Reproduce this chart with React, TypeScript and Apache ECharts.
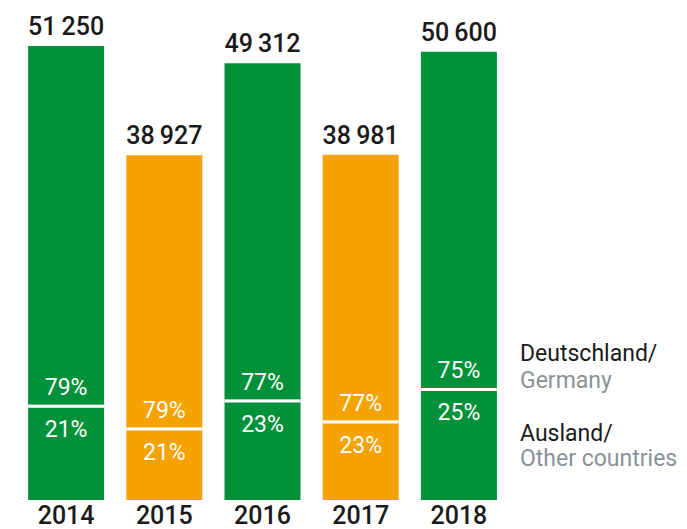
import React, { useEffect, useRef } from "react";
import * as echarts from "echarts";

const years = ["2014", "2015", "2016", "2017", "2018"];
const totals = [51250, 38927, 49312, 38981, 50600];
const germanyShare = [79, 79, 77, 77, 75];
const abroadShare = [21, 21, 23, 23, 25];
const barColors = ["#00913a", "#f6a200", "#00913a", "#f6a200", "#00913a"];

const FONT = "Roboto, 'DejaVu Sans', sans-serif";

function fmt(n: number) {
  const s = String(n);
  return s.slice(0, s.length - 3) + "\u2009" + s.slice(s.length - 3);
}

export default function App() {
  const ref = useRef<HTMLDivElement>(null);
  useEffect(() => {
    if (!ref.current) return;
    const chart = echarts.init(ref.current, null, { renderer: "svg" });
    const abroadVals = totals.map((t, i) => (t * abroadShare[i]) / 100);
    const germanyVals = totals.map((t, i) => (t * germanyShare[i]) / 100);
    const BAR_W = 76;
    chart.setOption({
      animation: false,
      grid: { left: 17, right: 179, top: 46, bottom: 29 },
      xAxis: {
        type: "category",
        data: years,
        axisLine: { show: false },
        axisTick: { show: false },
        axisLabel: {
          margin: 3,
          color: "#1a1a1a",
          fontSize: 25,
          fontWeight: 500,
          fontFamily: FONT,
          lineHeight: 24,
        },
      },
      yAxis: { type: "value", min: 0, max: 51250, show: false, splitLine: { show: false } },
      series: [
        {
          type: "bar",
          stack: "s",
          barWidth: BAR_W,
          data: abroadVals.map((v, i) => ({ value: v, itemStyle: { color: barColors[i] } })),
          label: {
            show: true,
            position: "insideTop",
            distance: 13,
            color: "#ffffff",
            fontSize: 23,
            fontFamily: FONT,
            formatter: (p: any) => abroadShare[p.dataIndex] + "%",
          },
        },
        {
          type: "bar",
          stack: "s",
          barWidth: BAR_W,
          data: germanyVals.map((v, i) => ({ value: v, itemStyle: { color: barColors[i] } })),
          label: {
            show: true,
            position: "insideBottom",
            distance: 6,
            color: "#ffffff",
            fontSize: 23,
            fontFamily: FONT,
            formatter: (p: any) => germanyShare[p.dataIndex] + "%",
          },
        },
        {
          type: "custom",
          data: totals.map((t, i) => [i, t, abroadVals[i]]),
          encode: { x: 0, y: 1 },
          z: 10,
          renderItem: (params: any, api: any) => {
            const idx = api.value(0);
            const top = api.coord([idx, api.value(1)]);
            const bnd = api.coord([idx, api.value(2)]);
            return {
              type: "group",
              children: [
                {
                  type: "rect",
                  shape: { x: top[0] - BAR_W / 2, y: bnd[1], width: BAR_W, height: 3 },
                  style: { fill: "#ffffff" },
                },
                {
                  type: "text",
                  x: top[0],
                  y: top[1] - 7,
                  style: {
                    text: fmt(totals[params.dataIndex]),
                    align: "center",
                    verticalAlign: "bottom",
                    fill: "#1a1a1a",
                    font: `500 25px ${FONT}`,
                  },
                },
              ],
            };
          },
        },
      ],
      graphic: [
        { type: "text", left: 520, top: 342, style: { text: "Deutschland/", fill: "#1a1a1a", font: `23px ${FONT}` } },
        { type: "text", left: 520, top: 369, style: { text: "Germany", fill: "#8a9299", font: `23px ${FONT}` } },
        { type: "text", left: 520, top: 422, style: { text: "Ausland/", fill: "#1a1a1a", font: `23px ${FONT}` } },
        { type: "text", left: 520, top: 447, style: { text: "Other countries", fill: "#8a9299", font: `23px ${FONT}` } },
      ],
    });
    return () => chart.dispose();
  }, []);
  return (
    <div
      ref={ref}
      style={{ position: "fixed", left: 0, top: 0, width: 687, height: 529, background: "#ffffff" }}
    />
  );
}
